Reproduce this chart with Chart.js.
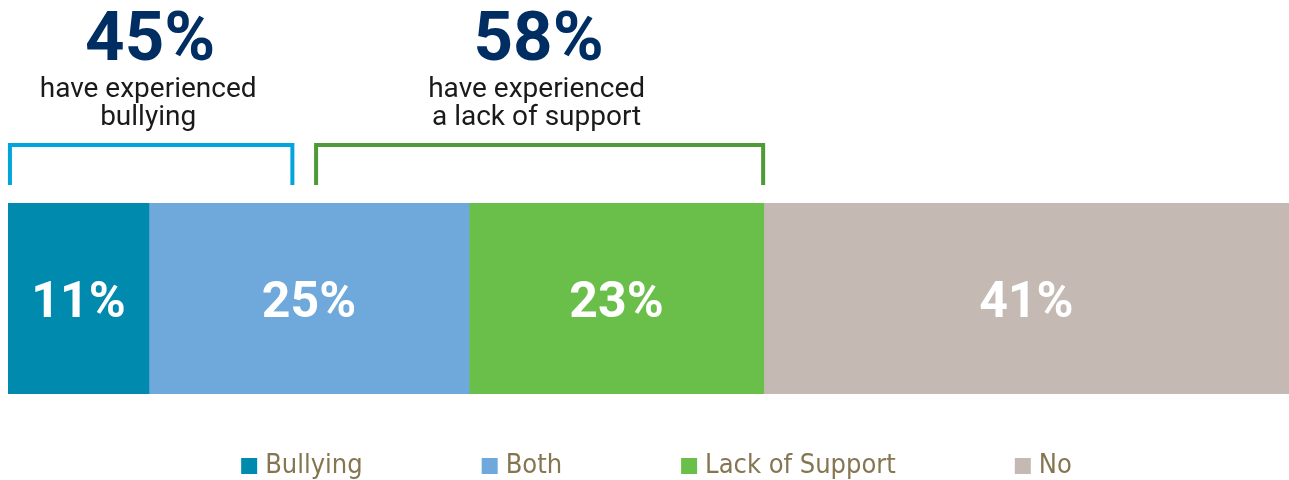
<!DOCTYPE html>
<html>
<head>
<meta charset="utf-8">
<script src="https://cdn.jsdelivr.net/npm/chart.js@4/dist/chart.umd.min.js"></script>
<style>
  html, body { margin: 0; padding: 0; background: #fff; }
  #wrap { width: 1289px; height: 480px; position: relative; }
</style>
</head>
<body>
<div id="wrap"><canvas id="chart"></canvas></div>
<script>
// data
const categories = ["All"];
const seriesNames = ["Bullying", "Both", "Lack of Support", "No"];
const seriesValues = [11, 25, 23, 41];
const seriesColors = ["#008AAD", "#6FA8DA", "#6ABF4B", "#C4B9B3"];

// callouts above the bar (range in % units along the bar)
const calloutValues = ["45%", "58%"];
const calloutLines = [["have experienced", "bullying"], ["have experienced", "a lack of support"]];
const calloutRanges = [[0.15, 22.2], [24.05, 58.95]];
const calloutColors = ["#00A5DB", "#4E9A37"];

const datasets = seriesNames.map((name, i) => ({
  label: name,
  data: [seriesValues[i]],
  backgroundColor: seriesColors[i],
  borderWidth: 0,
  barPercentage: 1,
  categoryPercentage: 1,
}));

// labels inside bars, callouts and legend
const drawExtras = {
  id: "drawExtras",
  afterDatasetsDraw(chart) {
    const ctx = chart.ctx;
    const xs = chart.scales.x;
    ctx.save();

    // percentage inside each segment
    ctx.fillStyle = "#ffffff";
    ctx.font = "bold 50px Roboto";
    ctx.textAlign = "center";
    ctx.textBaseline = "alphabetic";
    chart.data.datasets.forEach((ds, i) => {
      const bar = chart.getDatasetMeta(i).data[0];
      const cx = (bar.x + bar.base) / 2;
      ctx.fillText(ds.data[0] + "%", cx, bar.y + 18);
    });

    // callouts
    calloutRanges.forEach((r, i) => {
      const x1 = xs.getPixelForValue(r[0]);
      const x2 = xs.getPixelForValue(r[1]);
      const cx = (x1 + x2) / 2;
      ctx.strokeStyle = calloutColors[i];
      ctx.lineWidth = 4;
      ctx.lineCap = "butt";
      ctx.beginPath();
      ctx.moveTo(x1, 185);
      ctx.lineTo(x1, 145);
      ctx.lineTo(x2, 145);
      ctx.lineTo(x2, 185);
      ctx.stroke();

      ctx.textAlign = "center";
      ctx.textBaseline = "alphabetic";
      ctx.fillStyle = "#002D62";
      ctx.font = "bold 69px Roboto";
      ctx.fillText(calloutValues[i], cx - 1, 60);
      ctx.fillStyle = "#1a1a1a";
      ctx.font = "28px Roboto";
      calloutLines[i].forEach((line, j) => {
        ctx.fillText(line, cx - 3, 97 + j * 28);
      });
    });

    // legend
    ctx.font = "27px 'DejaVu Sans Condensed', 'Liberation Sans Narrow', Roboto";
    ctx.textBaseline = "alphabetic";
    ctx.textAlign = "left";
    const box = 16, boxGap = 8, itemGap = 119;
    const widths = chart.data.datasets.map(ds => box + boxGap + ctx.measureText(ds.label).width);
    const total = widths.reduce((a, b) => a + b, 0) + itemGap * (widths.length - 1);
    let x = (chart.chartArea.left + chart.chartArea.right) / 2 - total / 2 + 8;
    const y = 473;
    chart.data.datasets.forEach((ds, i) => {
      ctx.fillStyle = ds.backgroundColor;
      ctx.fillRect(x, y - 15, box, box);
      ctx.fillStyle = "#857550";
      ctx.fillText(ds.label, x + box + boxGap, y);
      x += widths[i] + itemGap;
    });

    ctx.restore();
  }
};

new Chart(document.getElementById("chart"), {
  type: "bar",
  data: { labels: categories, datasets: datasets },
  options: {
    indexAxis: "y",
    responsive: true,
    maintainAspectRatio: false,
    animation: false,
    layout: { padding: { left: 8, right: 0, top: 203, bottom: 86 } },
    scales: {
      x: { stacked: true, min: 0, max: 100, display: false },
      y: { stacked: true, display: false },
    },
    plugins: {
      legend: { display: false },
      tooltip: { enabled: false },
    },
  },
  plugins: [drawExtras],
});
</script>
</body>
</html>
